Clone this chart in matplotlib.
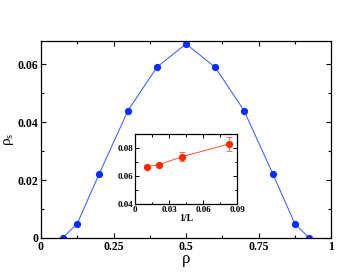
import matplotlib
matplotlib.use("Agg")
import matplotlib.pyplot as plt
from matplotlib.ticker import MultipleLocator, FixedLocator

rho = [0.075, 0.125, 0.2, 0.3, 0.4, 0.5, 0.6, 0.7, 0.8, 0.875, 0.925]
rho_s = [0.0, 0.005, 0.022, 0.044, 0.059, 0.067, 0.059, 0.044, 0.022, 0.005, 0.0]

invL = [1/96, 1/48, 1/24, 1/12]
rho_s_L = [0.0667, 0.068, 0.0738, 0.083]
err_L = [0.001, 0.001, 0.003, 0.005]

plt.rcParams['font.family'] = ['Liberation Serif', 'DejaVu Serif']

fig = plt.figure(figsize=(3.52, 2.72), dpi=100)
ax = fig.add_axes([41/352, 1-238/272, 290/352, 197/272])
ax.plot(rho, rho_s, '-', color='#3355ff', lw=0.7)
ax.plot(rho, rho_s, 'o', color='#0a2dff', ms=4.2, mec='#0a2dff')
ax.set_xlim(0, 1)
ax.set_ylim(0, 0.068)
ax.xaxis.set_major_locator(FixedLocator([0, 0.25, 0.5, 0.75, 1]))
ax.set_xticklabels(['0', '0.25', '0.5', '0.75', '1'])
ax.xaxis.set_minor_locator(MultipleLocator(0.125))
ax.yaxis.set_major_locator(FixedLocator([0, 0.02, 0.04, 0.06]))
ax.set_yticklabels(['0', '0.02', '0.04', '0.06'])
ax.yaxis.set_minor_locator(MultipleLocator(0.01))
ax.tick_params(which='both', direction='in', top=True, right=True, labelsize=8.5, width=0.8)
ax.tick_params(which='major', length=3.5, pad=2)
ax.tick_params(which='minor', length=2)
for lab in ax.get_xticklabels() + ax.get_yticklabels():
    lab.set_fontweight('bold')
for s in ax.spines.values():
    s.set_linewidth(0.9)
ax.set_xlabel('ρ', fontsize=12, labelpad=-1)
ax.set_ylabel(r'ρ$_\mathregular{s}$', fontsize=11)
ax.yaxis.set_label_coords(-0.085, 0.5)

ins = fig.add_axes([135/352, 1-204/272, 102/352, 70/272])
ins.errorbar(invL, rho_s_L, yerr=err_L, fmt='o', color='#ff2a00', ecolor='#ff7050',
             ms=4.2, elinewidth=0.7, capsize=2.5, capthick=0.7, zorder=3)
ins.plot(invL, rho_s_L, '-', color='#ff5030', lw=0.7)
ins.set_xlim(0, 0.09)
ins.set_ylim(0.04, 0.09)
ins.xaxis.set_major_locator(FixedLocator([0, 0.03, 0.06, 0.09]))
ins.set_xticklabels(['0', '0.03', '0.06', '0.09'])
ins.xaxis.set_minor_locator(MultipleLocator(0.015))
ins.yaxis.set_major_locator(FixedLocator([0.04, 0.06, 0.08]))
ins.set_yticklabels(['0.04', '0.06', '0.08'])
ins.yaxis.set_minor_locator(MultipleLocator(0.01))
ins.tick_params(which='both', direction='in', top=True, right=True, labelsize=6.5, width=0.7, pad=1.5)
ins.tick_params(which='major', length=3)
ins.tick_params(which='minor', length=1.8)
for lab in ins.get_xticklabels() + ins.get_yticklabels():
    lab.set_fontweight('bold')
for s in ins.spines.values():
    s.set_linewidth(0.9)
ins.set_xlabel('1/L', fontsize=7, fontweight='bold', labelpad=0)

fig.savefig('out.png', dpi=100)
